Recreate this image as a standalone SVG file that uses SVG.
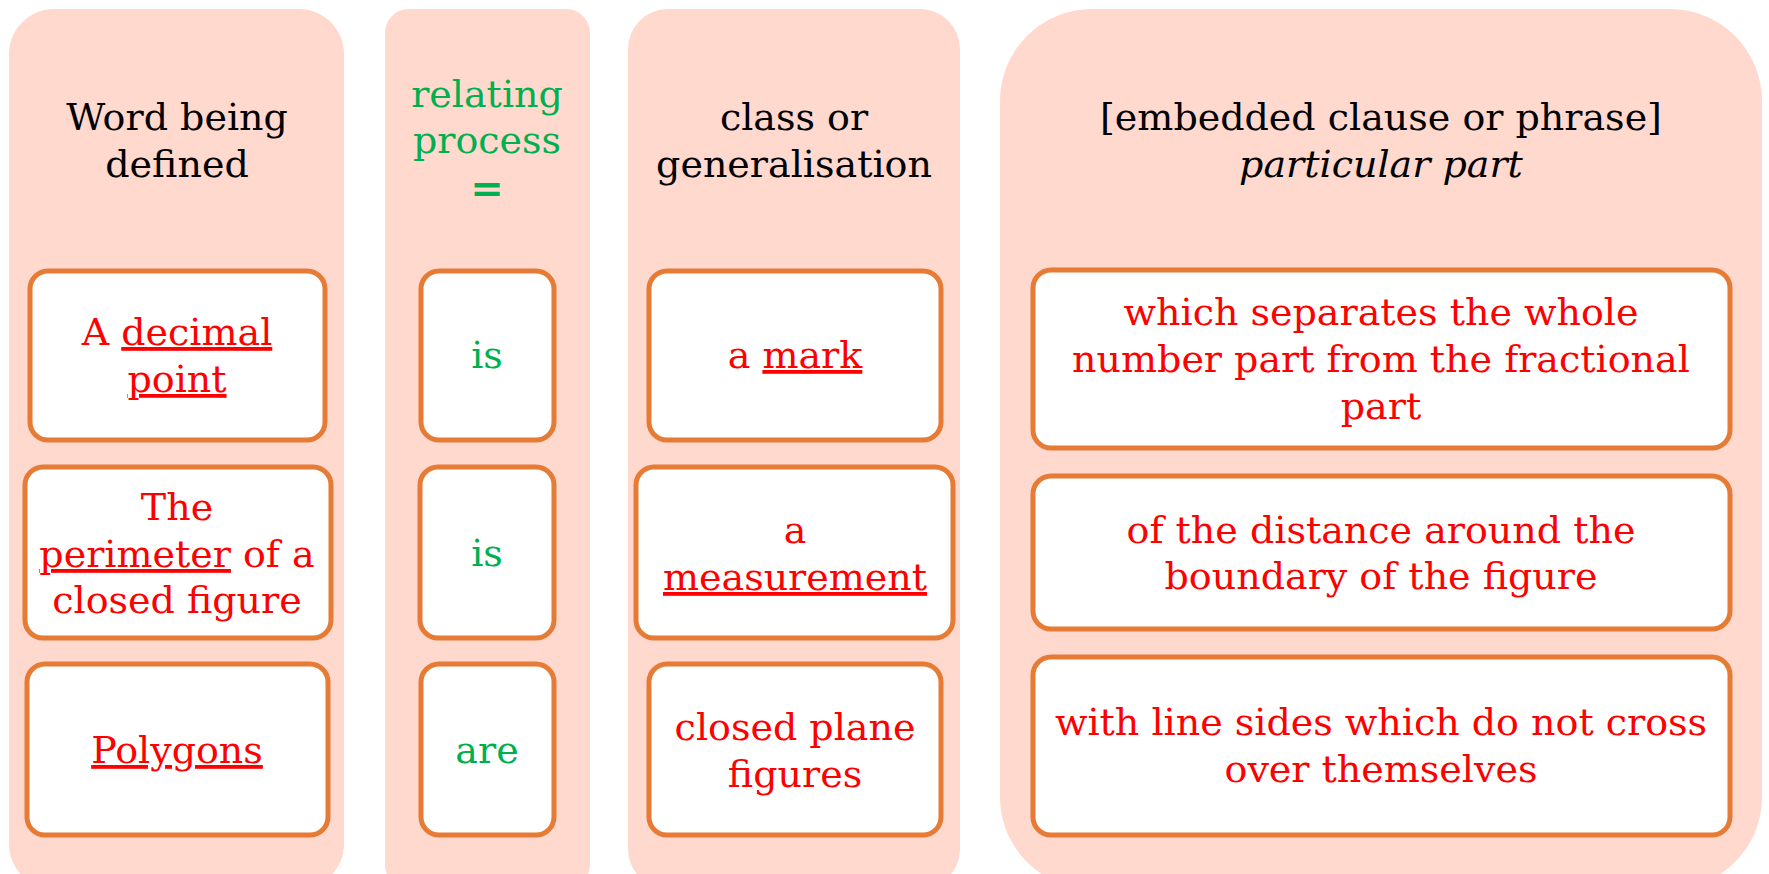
<svg xmlns="http://www.w3.org/2000/svg" width="1769" height="874" viewBox="0 0 1769 874">
<style>
.bg{fill:#FFD8CE;}
.box{fill:#FFFFFF;stroke:#E57B35;stroke-width:5;}
text{font-family:"DejaVu Serif","Liberation Serif",serif;font-size:38px;text-anchor:middle;}
.hd{fill:#000000;}
.gr{fill:#00B050;}
.rd{fill:#FF0000;}
.u{text-decoration:underline;}
</style>
<g id="columns">
<rect id="col1" class="bg" x="9" y="9" width="335" height="880" rx="45"/>
<rect id="col2" class="bg" x="385" y="9" width="205" height="880" rx="24"/>
<rect id="col3" class="bg" x="628" y="9" width="332" height="880" rx="40"/>
<rect id="col4" class="bg" x="1000" y="9" width="762" height="880" rx="92"/>
</g>
<g id="headers">
<g id="h1"><text class="hd" x="177" y="130">Word being</text><text class="hd" x="177" y="177">defined</text></g>
<g id="h2"><text class="gr" x="487" y="107">relating</text><text class="gr" x="487" y="153">process</text><text class="gr" x="487" y="202" style="font-weight:bold;font-size:40px">=</text></g>
<g id="h3"><text class="hd" x="794" y="130">class or</text><text class="hd" x="794" y="177">generalisation</text></g>
<g id="h4"><text class="hd" x="1381" y="130">[embedded clause or phrase]</text><text class="hd" x="1381" y="177" style="font-style:italic">particular part</text></g>
</g>
<g id="r1c1"><rect class="box" x="30" y="271" width="295" height="169" rx="18"/><text class="rd" x="177" y="345">A <tspan class="u">decimal</tspan></text><text class="rd" x="177" y="392"><tspan class="u">point</tspan></text></g>
<g id="r1c2"><rect class="box" x="421" y="271" width="133" height="169" rx="18"/><text class="gr" x="487" y="368">is</text></g>
<g id="r1c3"><rect class="box" x="649" y="271" width="292" height="169" rx="18"/><text class="rd" x="795" y="368">a <tspan class="u">mark</tspan></text></g>
<g id="r1c4"><rect class="box" x="1033" y="270" width="697" height="178" rx="18"/><text class="rd" x="1381" y="325">which separates the whole</text><text class="rd" x="1381" y="372">number part from the fractional</text><text class="rd" x="1381" y="419">part</text></g>
<g id="r2c1"><rect class="box" x="25" y="467" width="306" height="171" rx="18"/><text class="rd" x="177" y="520">The</text><text class="rd" x="177" y="567"><tspan class="u">perimeter</tspan> of a</text><text class="rd" x="177" y="613">closed figure</text></g>
<g id="r2c2"><rect class="box" x="420" y="467" width="134" height="171" rx="18"/><text class="gr" x="487" y="566">is</text></g>
<g id="r2c3"><rect class="box" x="636" y="467" width="317" height="171" rx="18"/><text class="rd" x="795" y="543">a</text><text class="rd" x="795" y="590"><tspan class="u">measurement</tspan></text></g>
<g id="r2c4"><rect class="box" x="1033" y="476" width="697" height="153" rx="18"/><text class="rd" x="1381" y="543">of the distance around the</text><text class="rd" x="1381" y="589">boundary of the figure</text></g>
<g id="r3c1"><rect class="box" x="27" y="664" width="301" height="171" rx="18"/><text class="rd" x="177" y="763"><tspan class="u">Polygons</tspan></text></g>
<g id="r3c2"><rect class="box" x="421" y="664" width="133" height="171" rx="18"/><text class="gr" x="487" y="763">are</text></g>
<g id="r3c3"><rect class="box" x="649" y="664" width="292" height="171" rx="18"/><text class="rd" x="795" y="740">closed plane</text><text class="rd" x="795" y="787">figures</text></g>
<g id="r3c4"><rect class="box" x="1033" y="657" width="697" height="178" rx="18"/><text class="rd" x="1381" y="735">with line sides which do not cross</text><text class="rd" x="1381" y="782">over themselves</text></g>
<g id="connectors"/>
</svg>
